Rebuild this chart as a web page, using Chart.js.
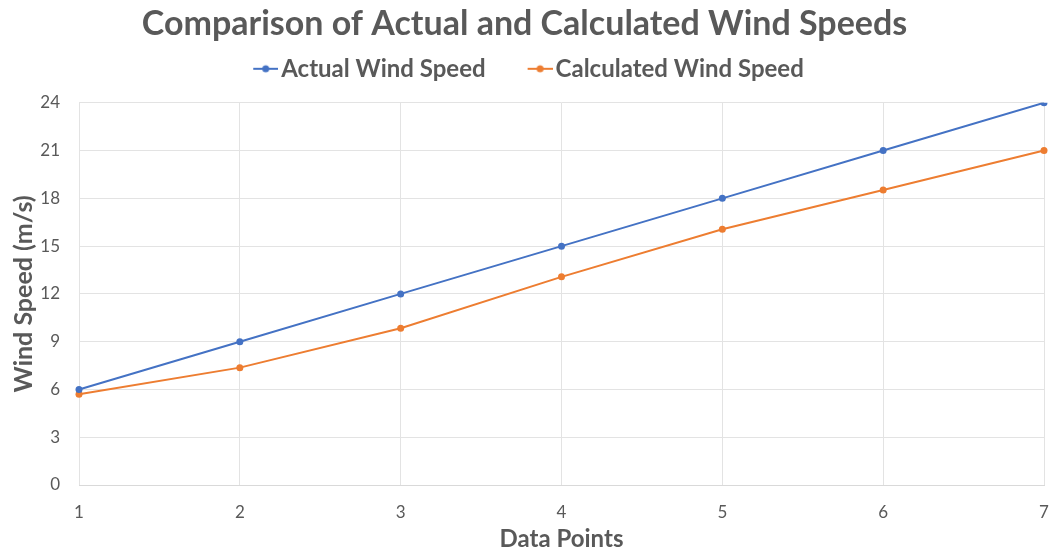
<!DOCTYPE html>
<html>
<head>
<meta charset="utf-8">
<script src="https://cdn.jsdelivr.net/npm/chart.js@4/dist/chart.umd.min.js"></script>
<style>
  html, body { margin: 0; padding: 0; background: #fff; }
  #wrap { width: 1054px; height: 556px; position: relative; }
</style>
</head>
<body>
<div id="wrap"><canvas id="windChart"></canvas></div>
<script>
// data
const dataPoints = ['1', '2', '3', '4', '5', '6', '7'];
const actualSpeed = [6, 9, 12, 15, 18, 21, 24];
const calculatedSpeed = [5.7, 7.37, 9.84, 13.07, 16.06, 18.53, 21.0];
const yTicks = [0, 3, 6, 9, 12, 15, 18, 21, 24];

const BLUE = '#4472C4';
const ORANGE = '#ED7D31';
const GREY = '#595959';
const FONT = 'Lato, "Open Sans", sans-serif';

// line-with-dot marker for the legend (drawn in the right part so it sits close to the text)
function legendMarker(color) {
    const c = document.createElement('canvas');
    c.width = 42; c.height = 10;
    const g = c.getContext('2d');
    g.strokeStyle = color;
    g.lineWidth = 2;
    g.beginPath(); g.moveTo(17, 5); g.lineTo(42, 5); g.stroke();
    g.fillStyle = color;
    g.beginPath(); g.arc(29.5, 5, 3.5, 0, Math.PI * 2); g.fill();
    return c;
}

// leave some extra room under the legend
const legendGap = {
    id: 'legendGap',
    beforeLayout(chart) {
        const lg = chart.legend;
        if (!lg || lg._gapPatched) return;
        const fit = lg.fit;
        lg.fit = function () {
            fit.call(this);
            this.height += 12;
        };
        lg._gapPatched = true;
    }
};

const ctx = document.getElementById('windChart').getContext('2d');
new Chart(ctx, {
    type: 'line',
    data: {
        labels: dataPoints,
        datasets: [{
            label: 'Actual Wind Speed',
            data: actualSpeed,
            borderColor: BLUE,
            backgroundColor: BLUE,
            borderWidth: 2,
            pointRadius: 3.5,
            pointBorderWidth: 0,
            tension: 0
        }, {
            label: 'Calculated Wind Speed',
            data: calculatedSpeed,
            borderColor: ORANGE,
            backgroundColor: ORANGE,
            borderWidth: 2,
            pointRadius: 3.5,
            pointBorderWidth: 0,
            tension: 0
        }]
    },
    options: {
        responsive: true,
        maintainAspectRatio: false,
        animation: false,
        layout: { padding: { top: 2, right: 10, left: 5, bottom: 2 } },
        plugins: {
            title: {
                display: true,
                text: 'Comparison of Actual and Calculated Wind Speeds',
                color: GREY,
                font: { family: FONT, size: 34, weight: 'bold' },
                padding: { top: 2, bottom: -22 }
            },
            legend: {
                labels: {
                    color: GREY,
                    font: { family: FONT, size: 24, weight: 'bold' },
                    usePointStyle: true,
                    padding: 34,
                    generateLabels(chart) {
                        const items = Chart.defaults.plugins.legend.labels.generateLabels(chart);
                        items.forEach((it, i) => {
                            it.pointStyle = legendMarker(chart.data.datasets[i].borderColor);
                        });
                        return items;
                    }
                }
            },
            tooltip: { enabled: false }
        },
        scales: {
            x: {
                grid: { color: '#e3e3e3', drawTicks: false },
                border: { color: '#d9d9d9' },
                ticks: { color: GREY, font: { family: FONT, size: 17 }, padding: 17 },
                title: {
                    display: true,
                    text: 'Data Points',
                    color: GREY,
                    font: { family: FONT, size: 24, weight: 'bold' },
                    padding: { top: 0, bottom: 0 }
                },
                afterFit(axis) {
                    axis.height = 69;
                    axis.paddingLeft = 0;
                    axis.paddingRight = 4;
                }
            },
            y: {
                min: yTicks[0],
                max: yTicks[yTicks.length - 1],
                afterBuildTicks(axis) {
                    axis.ticks = yTicks.map(v => ({ value: v }));
                },
                grid: { color: '#e3e3e3', drawTicks: false },
                border: { display: false },
                ticks: { color: GREY, font: { family: FONT, size: 17 }, padding: 19 },
                title: {
                    display: true,
                    text: 'Wind Speed (m/s)',
                    color: GREY,
                    font: { family: FONT, size: 25, weight: 'bold' },
                    padding: { top: 4, bottom: 0 }
                },
                afterFit(axis) { axis.width = 74; }
            }
        }
    },
    plugins: [legendGap]
});
</script>
</body>
</html>
